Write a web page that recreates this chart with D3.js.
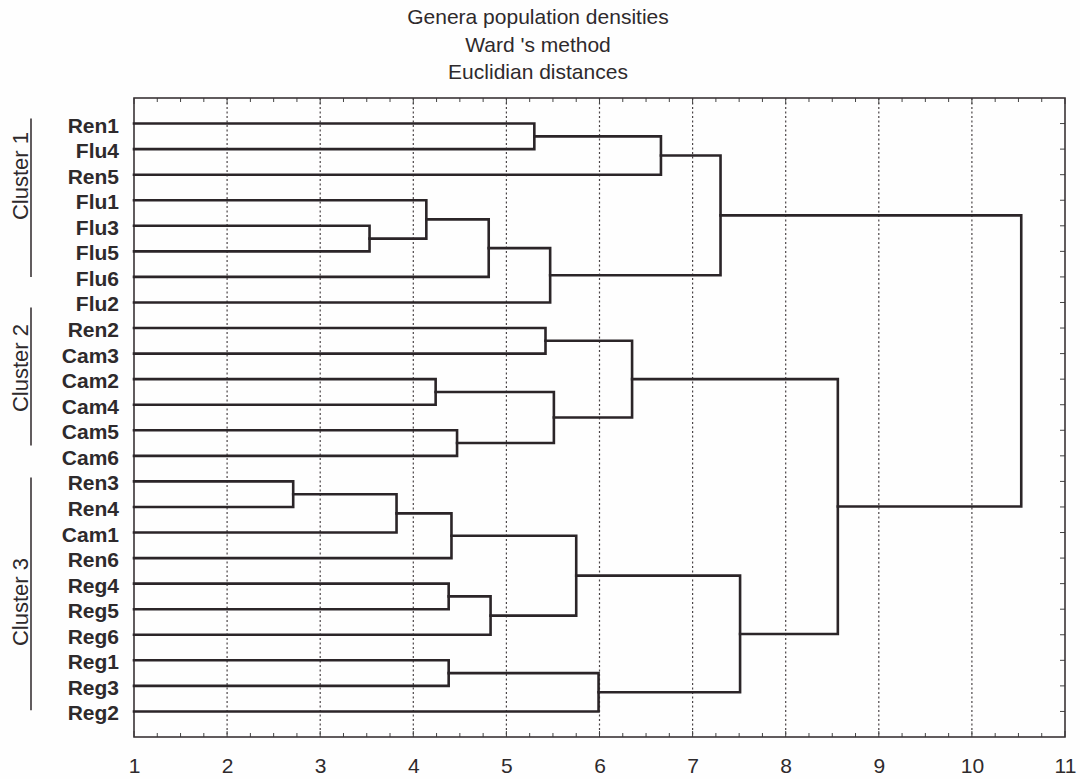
<!DOCTYPE html>
<html>
<head>
<meta charset="utf-8">
<script src="https://cdn.jsdelivr.net/npm/d3@7"></script>
<style>
  html, body { margin: 0; padding: 0; background: #fefefe; }
  svg { display: block; }
  text { font-family: "Liberation Sans", Arial, sans-serif; fill: #2e2a2c; }
</style>
</head>
<body>
<svg id="chart" width="1080" height="779"></svg>
<script>
// ---------------- DATA ----------------
const titleLines = ["Genera population densities", "Ward 's method", "Euclidian distances"];

const leaves = ["Ren1","Flu4","Ren5","Flu1","Flu3","Flu5","Flu6","Flu2",
                "Ren2","Cam3","Cam2","Cam4","Cam5","Cam6",
                "Ren3","Ren4","Cam1","Ren6","Reg4","Reg5","Reg6","Reg1","Reg3","Reg2"];

// linkage: merge i joins mergeLeft[i] and mergeRight[i] at linkage distance mergeHeight[i]
const mergeIds    = ["M1","M2","M3","M4","M5","M6","M7","M8","M9","M10","M11","M12",
                     "M13","M14","M15","M16","M17","M18","M19","M20","M21","M22","M23"];
const mergeLeft   = ["Ren1","M1","Flu3","Flu1","M4","M5","M2","Ren2","Cam2","Cam5","M9","M8",
                     "Ren3","M13","M14","Reg4","M16","M15","Reg1","M19","M18","M12","M7"];
const mergeRight  = ["Flu4","Ren5","Flu5","M3","Flu6","Flu2","M6","Cam3","Cam4","Cam6","M10","M11",
                     "Ren4","Cam1","Ren6","Reg5","Reg6","M17","Reg3","Reg2","M20","M21","M22"];
const mergeHeight = [5.30, 6.66, 3.53, 4.14, 4.81, 5.47, 7.30, 5.42, 4.24, 4.47, 5.51, 6.35,
                     2.71, 3.82, 4.41, 4.38, 4.83, 5.75, 4.38, 5.99, 7.51, 8.56, 10.53];

const xTicks = [1,2,3,4,5,6,7,8,9,10,11];

const clusterNames = ["Cluster 1", "Cluster 2", "Cluster 3"];
const clusterFirst = ["Ren1", "Ren2", "Ren3"];
const clusterLast  = ["Flu2", "Cam6", "Reg2"];

// ---------------- LAYOUT ----------------
const svg = d3.select("#chart");
const plot = { left: 134, right: 1065, top: 98, bottom: 737 };

const x = d3.scaleLinear().domain([1, 11]).range([plot.left, plot.right]);
const y = d3.scalePoint().domain(leaves).range([plot.top, plot.bottom]).padding(1);

const ink = "#2b2528";

// title
svg.append("g").selectAll("text").data(titleLines).join("text")
  .attr("x", 538)
  .attr("y", (d, i) => 24 + i * 27.5)
  .attr("text-anchor", "middle")
  .style("font-size", "21px")
  .text(d => d);

// gridlines (dotted) at integer ticks
svg.append("g").selectAll("line").data(xTicks.filter(t => t > 1 && t < 11)).join("line")
  .attr("x1", d => x(d)).attr("x2", d => x(d))
  .attr("y1", plot.top).attr("y2", plot.bottom)
  .attr("stroke", "#4a4446").attr("stroke-width", 1.2)
  .attr("stroke-dasharray", "2,2.5");

// minor ticks on top & bottom (every 0.25)
const minor = d3.range(1, 11.001, 0.25);
const tg = svg.append("g").attr("stroke", "#444").attr("stroke-width", 1);
tg.selectAll("line.b").data(minor).join("line").attr("class", "b")
  .attr("x1", d => x(d)).attr("x2", d => x(d))
  .attr("y1", plot.bottom).attr("y2", d => plot.bottom - (Number.isInteger(d) ? 6 : 4));
tg.selectAll("line.t").data(minor).join("line").attr("class", "t")
  .attr("x1", d => x(d)).attr("x2", d => x(d))
  .attr("y1", plot.top).attr("y2", d => plot.top + (Number.isInteger(d) ? 6 : 4));
// right border ticks at each leaf
tg.selectAll("line.r").data(leaves).join("line").attr("class", "r")
  .attr("x1", plot.right).attr("x2", plot.right - 5)
  .attr("y1", d => y(d)).attr("y2", d => y(d));

// frame
svg.append("rect")
  .attr("x", plot.left).attr("y", plot.top)
  .attr("width", plot.right - plot.left).attr("height", plot.bottom - plot.top)
  .attr("fill", "none").attr("stroke", "#3a3436").attr("stroke-width", 1.6);

// x axis tick labels
const xAxis = d3.axisBottom(x).tickValues(xTicks).tickSize(0).tickPadding(0).tickFormat(d3.format("d"));
const xa = svg.append("g").attr("transform", `translate(0, ${plot.bottom})`).call(xAxis);
xa.attr("font-size", null).attr("font-family", null);
xa.select(".domain").remove();
xa.selectAll("text").attr("dy", null).attr("y", 36)
  .style("font-size", "21px").style("fill", "#2e2a2c");

// leaf labels
svg.append("g").selectAll("text").data(leaves).join("text")
  .attr("x", 119)
  .attr("y", d => y(d) + 9)
  .attr("text-anchor", "end")
  .style("font-size", "21px").style("font-weight", "bold")
  .text(d => d);

// dendrogram
const nodeY = {}, nodeH = {};
leaves.forEach(l => { nodeY[l] = y(l); nodeH[l] = 1; });
const paths = [];
mergeIds.forEach((id, i) => {
  const a = mergeLeft[i], b = mergeRight[i], h = mergeHeight[i];
  paths.push(`M${x(nodeH[a])},${nodeY[a]}H${x(h)}V${nodeY[b]}H${x(nodeH[b])}`);
  nodeY[id] = (nodeY[a] + nodeY[b]) / 2;
  nodeH[id] = h;
});
svg.append("g").selectAll("path").data(paths).join("path")
  .attr("d", d => d)
  .attr("fill", "none").attr("stroke", ink)
  .attr("stroke-width", 2.6).attr("stroke-linejoin", "miter").attr("stroke-linecap", "square");

// cluster labels with underline bars
const cg = svg.append("g");
clusterNames.forEach((name, i) => {
  const step = y.step();
  const y1 = y(clusterFirst[i]) + (i === 0 ? -0.2 : i === 1 ? -0.8 : -0.15) * step;
  const y2 = y(clusterLast[i]) + (i === 0 ? -1.0 : i === 1 ? -0.4 : -0.05) * step;
  cg.append("line")
    .attr("x1", 31).attr("x2", 31).attr("y1", y1).attr("y2", y2)
    .attr("stroke", "#3a3436").attr("stroke-width", 1.6);
  const cy = i === 0 ? 176 : i === 1 ? 368 : 602;
  cg.append("text")
    .attr("transform", `translate(28, ${cy}) rotate(-90)`)
    .attr("text-anchor", "middle")
    .style("font-size", "22px")
    .text(name);
});
</script>
</body>
</html>
